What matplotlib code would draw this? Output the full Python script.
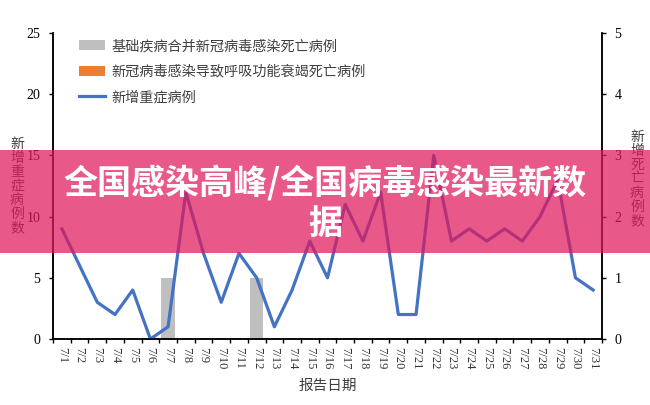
import matplotlib.pyplot as plt
import numpy as np
from matplotlib.patches import Rectangle

# report dates (July)
dates = ['7/1', '7/2', '7/3', '7/4', '7/5', '7/6', '7/7', '7/8', '7/9', '7/10',
         '7/11', '7/12', '7/13', '7/14', '7/15', '7/16', '7/17', '7/18', '7/19', '7/20',
         '7/21', '7/22', '7/23', '7/24', '7/25', '7/26', '7/27', '7/28', '7/29', '7/30', '7/31']

# new severe cases (left axis)
severe = [9, 6, 3, 2, 4, 0, 1, 12, 7, 3, 7, 5, 1, 4, 8, 5, 11, 8, 12, 2,
          2, 15, 8, 9, 8, 9, 8, 10, 13, 5, 4]

# deaths (right axis)
deaths_basic = [0, 0, 0, 0, 0, 0, 1, 0, 0, 0, 0, 1, 0, 0, 0, 0, 0, 0, 0, 0,
                0, 0, 0, 0, 0, 0, 0, 0, 0, 0, 0]
deaths_resp = [0] * 31

legend_labels = ['基础疾病合并新冠病毒感染死亡病例',
                 '新冠病毒感染导致呼吸功能衰竭死亡病例',
                 '新增重症病例']
banner_text = '全国感染高峰/全国病毒感染最新数\n据'

CJK = ['Noto Sans CJK SC', 'DejaVu Sans']
NUM = ['Liberation Serif', 'DejaVu Serif']

BLUE = '#4472C4'
GRAY = '#BFBFBF'
ORANGE = '#ED7D31'


def main():
    fig = plt.figure(figsize=(6.5, 4.05), dpi=100)
    ax = fig.add_axes([53 / 650, 1 - 339 / 405, (602 - 53) / 650, (339 - 33) / 405])
    ax2 = ax.twinx()

    x = np.arange(len(dates))

    # bars on the right axis, line on the left axis drawn on top
    ax2.bar(x, deaths_basic, width=0.75, color=GRAY, label=legend_labels[0])
    ax2.bar(x, deaths_resp, width=0.75, color=ORANGE, label=legend_labels[1])
    ax.plot(x, severe, color=BLUE, lw=2.3, label=legend_labels[2])
    ax.set_zorder(ax2.get_zorder() + 1)
    ax.patch.set_visible(False)

    ax.set_xlim(-0.5, len(dates) - 0.5)
    ax.set_ylim(0, 25)
    ax2.set_ylim(0, 5)
    ax.set_yticks(range(0, 26, 5))
    ax2.set_yticks(range(0, 6))

    ax.set_xticks(x)
    ax.set_xticklabels(dates, rotation=-90, fontsize=9, family=NUM, color='#333333')
    ax.set_xticks(np.arange(-0.5, len(dates), 1), minor=True)
    ax.tick_params(axis='x', which='major', length=0, pad=6)
    ax.tick_params(axis='x', which='minor', length=3, width=1, direction='out')
    ax.tick_params(axis='y', length=3, width=1, labelsize=10, pad=6)
    ax2.tick_params(axis='y', length=3, width=1, labelsize=10, pad=6)
    for lab in ax.get_yticklabels() + ax2.get_yticklabels():
        lab.set_family(NUM)

    for a in (ax, ax2):
        a.spines['top'].set_visible(False)
        for s in ('left', 'right', 'bottom'):
            a.spines[s].set_linewidth(1.1)
            a.spines[s].set_color('black')

    # stacked vertical axis titles
    fig.text(17 / 650, 1 - 186 / 405, '\n'.join('新增重症病例数'), family=CJK,
             fontsize=10, color='#404040', ha='center', va='center', linespacing=1.0)
    fig.text(637 / 650, 1 - 179 / 405, '\n'.join('新增死亡病例数'), family=CJK,
             fontsize=10, color='#404040', ha='center', va='center', linespacing=1.0)
    fig.text(328 / 650, 1 - 386 / 405, '报告日期', family=CJK, fontsize=10.5,
             color='#404040', ha='center', va='center')

    h1, l1 = ax2.get_legend_handles_labels()
    h2, l2 = ax.get_legend_handles_labels()
    leg = fig.legend(h1 + h2, l1 + l2, loc='upper left',
                     bbox_to_anchor=(72 / 650, 1 - 32 / 405), frameon=False,
                     prop={'family': CJK, 'size': 10.2}, handlelength=1.8,
                     handletextpad=0.5, labelspacing=0.82, borderpad=0)
    for t in leg.get_texts():
        t.set_color('#404040')

    # pink banner over the chart
    fig.add_artist(Rectangle((0, 1 - 253 / 405), 1, 103 / 405, transform=fig.transFigure,
                             facecolor='#E0195C', alpha=0.72, edgecolor='none', zorder=5))
    fig.text(0.5, 1 - 203 / 405, banner_text, family=CJK, fontsize=24.5, fontweight='heavy',
             color='white', ha='center', va='center', multialignment='center',
             linespacing=1.2, zorder=6)

    fig.savefig('out.png', dpi=100)


if __name__ == '__main__':
    main()
